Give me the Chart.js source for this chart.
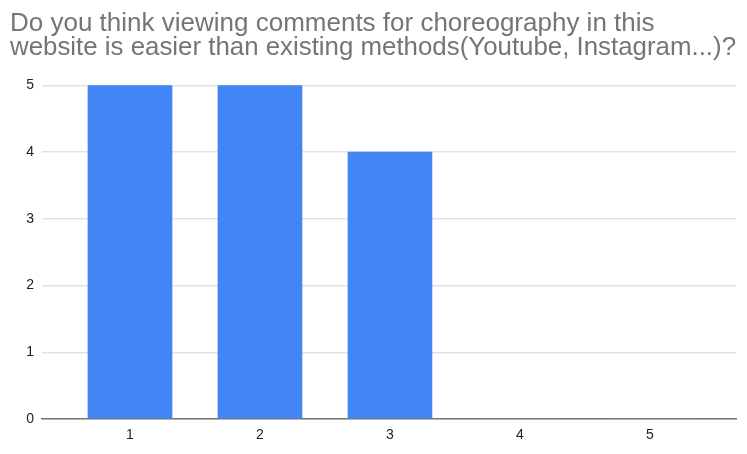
<!DOCTYPE html>
<html>
<head>
<meta charset="utf-8">
<script src="https://cdn.jsdelivr.net/npm/chart.js@4"></script>
<style>
  html, body { margin: 0; padding: 0; background: #fff; }
  #wrap { width: 747px; height: 454px; }
</style>
</head>
<body>
<div id="wrap"><canvas id="c" width="747" height="454"></canvas></div>
<script>
const titleLines = [
  "Do you think viewing comments for choreography in this",
  "website is easier than existing methods(Youtube, Instagram...)?"
];
const categories = [1, 2, 3, 4, 5];
const counts = [5, 5, 4, 0, 0];
const yTicks = [0, 1, 2, 3, 4, 5];

const points = categories.map((c, i) => ({ x: c, y: counts[i] }));

new Chart(document.getElementById('c'), {
  type: 'bar',
  data: {
    datasets: [{
      data: points,
      backgroundColor: '#4285F4',
      borderWidth: 0,
      barThickness: 84
    }]
  },
  options: {
    responsive: false,
    animation: false,
    devicePixelRatio: 1,
    layout: { padding: { left: 10, right: 11, top: 0, bottom: 0 } },
    plugins: {
      legend: { display: false },
      tooltip: { enabled: false },
      title: {
        display: true,
        text: titleLines,
        align: 'start',
        color: '#757575',
        font: { family: 'Arial, "Liberation Sans", sans-serif', size: 26, weight: 'normal', lineHeight: 0.93 },
        padding: { top: 12, bottom: 25 }
      }
    },
    scales: {
      x: {
        type: 'linear',
        offset: false,
        min: 0.323,
        max: 5.662,
        grid: { display: false, drawTicks: false },
        border: { display: true, color: '#777', width: 1.5 },
        afterBuildTicks: (s) => { s.ticks = categories.map(v => ({ value: v })); },
        afterFit: (s) => { s.height = 35; },
        ticks: {
          padding: 8,
          color: '#222',
          font: { family: 'Arial, "Liberation Sans", sans-serif', size: 14 },
          maxRotation: 0,
          autoSkip: false,
          callback: (v) => String(v)
        }
      },
      y: {
        min: 0,
        max: 5,
        afterBuildTicks: (s) => { s.ticks = yTicks.map(v => ({ value: v })); },
        afterFit: (s) => { s.width = 32; },
        grid: { color: '#e3e3e3', lineWidth: 1.5, drawTicks: false },
        border: { display: false },
        ticks: {
          padding: 8,
          color: '#222',
          font: { family: 'Arial, "Liberation Sans", sans-serif', size: 14 }
        }
      }
    }
  }
});
</script>
</body>
</html>
